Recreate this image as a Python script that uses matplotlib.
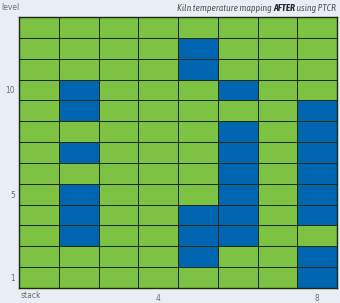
import matplotlib
matplotlib.use("Agg")
import matplotlib.pyplot as plt
from matplotlib import font_manager as fm
from matplotlib.colors import ListedColormap
import numpy as np

# Kiln grid: 8 stacks x 13 levels; listed levels are the hot (blue) cells per stack
stacks = [1, 2, 3, 4, 5, 6, 7, 8]
levels = list(range(1, 14))
hot_levels = {
    1: [],
    2: [3, 4, 5, 7, 9, 10],
    3: [],
    4: [],
    5: [2, 3, 4, 11, 12],
    6: [3, 4, 5, 6, 7, 8, 10],
    7: [],
    8: [1, 2, 4, 5, 6, 7, 8, 9],
}
stack_ticks = [4, 8]
level_ticks = [1, 5, 10]
title_parts = [("Kiln temperature mapping ", "normal"), ("AFTER", "bold"), (" using PTCR", "normal")]

GREEN = "#7dc242"
BLUE = "#0066b2"
BG = "#e9edf4"
TXT = "#555a60"
LABEL = "#6a6f75"
EDGE = "#1c2a18"


def _wt(f):
    try:
        return int(f.weight)
    except (TypeError, ValueError):
        return 700 if "bold" in str(f.weight).lower() else 400


# Prefer a condensed face with italic regular and italic bold cuts for the title
title_family = ["Liberation Sans", "DejaVu Sans"]
candidates = {}
for f in fm.fontManager.ttflist:
    if "Narrow" in f.name or "Condensed" in f.name:
        candidates.setdefault(f.name, set()).add((_wt(f), f.style != "normal"))
best = None
for name, cuts in candidates.items():
    ital_reg = any(it and 350 <= w <= 500 for w, it in cuts)
    ital_bold = any(it and w >= 600 for w, it in cuts)
    reg = any(350 <= w <= 500 for w, it in cuts)
    score = ital_reg * 4 + ital_bold * 2 + reg
    if best is None or score > best[0]:
        best = (score, name)
if best is not None:
    title_family = [best[1], "DejaVu Sans"]

grid = np.zeros((len(levels), len(stacks)))
for s in stacks:
    for lv in hot_levels[s]:
        grid[lv - 1, s - 1] = 1

W, H = 340, 303
fig = plt.figure(figsize=(W / 100, H / 100), dpi=100)
fig.patch.set_facecolor(BG)
ax = fig.add_axes([19 / W, 1 - 288 / H, (337 - 19) / W, (288 - 17) / H])

xe = np.arange(0.5, len(stacks) + 1.5)
ye = np.arange(0.5, len(levels) + 1.5)
ax.pcolormesh(xe, ye, grid, cmap=ListedColormap([GREEN, BLUE]), vmin=0, vmax=1,
              edgecolors=EDGE, linewidth=0.7)
ax.set_xlim(0.5, len(stacks) + 0.5)
ax.set_ylim(0.5, len(levels) + 0.5)
for sp in ax.spines.values():
    sp.set_color(EDGE)
    sp.set_linewidth(1.0)
ax.set_xticks(stack_ticks)
ax.set_yticks(level_ticks)
ax.tick_params(length=0, labelsize=5.5, labelcolor=LABEL, pad=3)
ax.tick_params(axis="x", pad=4)

fig.text(1 / W, 1 - 8 / H, "level", fontsize=5.5, color=LABEL, va="center", ha="left")
fig.text(21 / W, 1 - 296 / H, "stack", fontsize=5.5, color=LABEL, va="center", ha="left")

# Title assembled right-to-left so that AFTER can be bold; kept to roughly 158 px wide
renderer = fig.canvas.get_renderer()


def draw_title(size):
    x = 336 / W
    y = 1 - 11 / H
    made = []
    total = 0.0
    for txt, wt in reversed(title_parts):
        t = fig.text(x, y, txt, fontsize=size, style="italic", weight=wt,
                     color=TXT if wt == "normal" else "#25292e",
                     family=title_family, ha="right", va="baseline")
        bb = t.get_window_extent(renderer)
        x -= bb.width / W
        total += bb.width
        made.append(t)
    return made, total


made, width = draw_title(8.5)
target = 158.0
if width > target * 1.03:
    for t in made:
        t.remove()
    made, width = draw_title(8.5 * target / width)

fig.savefig("out.png", dpi=100, facecolor=BG)
